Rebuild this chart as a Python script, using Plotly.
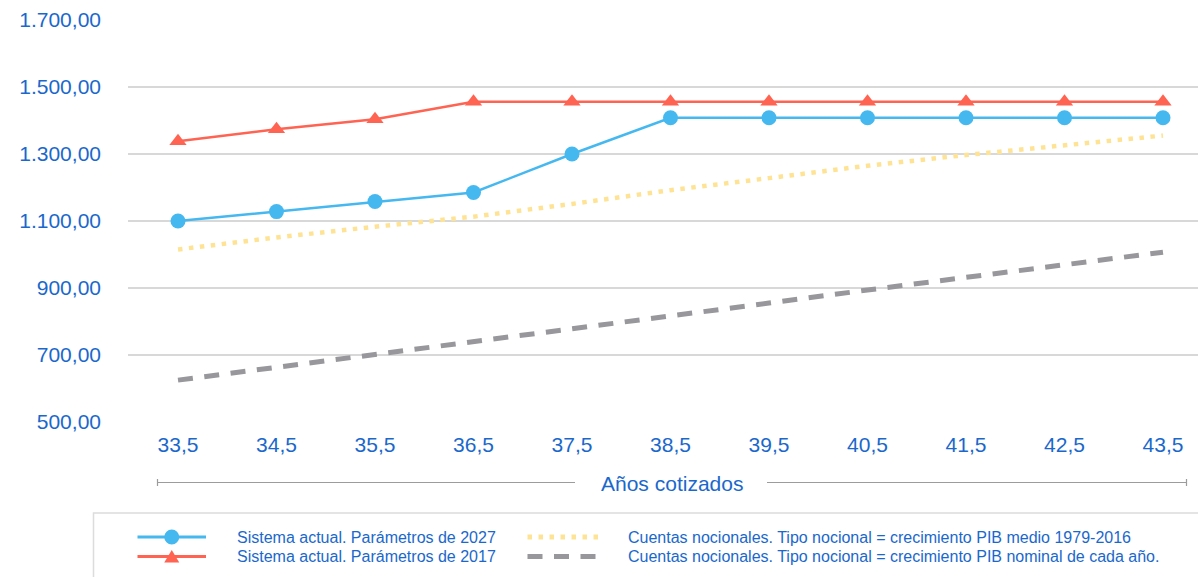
import plotly.graph_objects as go

# ---- data -------------------------------------------------------------
anos = [33.5, 34.5, 35.5, 36.5, 37.5, 38.5, 39.5, 40.5, 41.5, 42.5, 43.5]
anos_txt = ["33,5", "34,5", "35,5", "36,5", "37,5", "38,5", "39,5", "40,5", "41,5", "42,5", "43,5"]

param_2027 = [1100, 1128, 1158, 1185, 1300, 1408, 1408, 1408, 1408, 1408, 1408]
param_2017 = [1338, 1374, 1404, 1456, 1456, 1456, 1456, 1456, 1456, 1456, 1456]
pib_medio = [1015, 1051, 1083, 1113, 1151, 1192, 1228, 1265, 1297, 1325, 1355]
pib_nominal = [625, 663, 700, 739, 777, 816, 855, 894, 932, 969, 1007]

y_ticks = [500, 700, 900, 1100, 1300, 1500, 1700]
y_ticks_txt = ["500,00", "700,00", "900,00", "1.100,00", "1.300,00", "1.500,00", "1.700,00"]

nombres = [
    "Sistema actual. Parámetros de 2027",
    "Sistema actual. Parámetros de 2017",
    "Cuentas nocionales. Tipo nocional = crecimiento PIB medio 1979-2016",
    "Cuentas nocionales. Tipo nocional = crecimiento PIB nominal de cada año.",
]
titulo_x = "Años cotizados"

# ---- style ------------------------------------------------------------
AZUL = "#45b8f0"
ROJO = "#ff6352"
AMARILLO = "#ffe394"
GRIS = "#98989c"
TEXTO = "#1a68cc"
FONT = "Liberation Sans, Arial, sans-serif"
DOT = "4.5px,6.5px"
DASH = "15px,11.5px"

W, H = 1198, 577
ML, MR, MT, MB = 128, 0, 20, 155
PW, PH = W - ML - MR, H - MT - MB


def fx(px):
    return (px - ML) / PW


def fy(py):
    return (H - MB - py) / PH


fig = go.Figure()
fig.add_trace(go.Scatter(x=anos, y=pib_nominal, mode="lines", name=nombres[3],
                         line=dict(color=GRIS, width=5, dash=DASH)))
fig.add_trace(go.Scatter(x=anos, y=pib_medio, mode="lines", name=nombres[2],
                         line=dict(color=AMARILLO, width=4.5, dash=DOT)))
fig.add_trace(go.Scatter(x=anos, y=param_2017, mode="lines+markers", name=nombres[1],
                         line=dict(color=ROJO, width=2.5),
                         marker=dict(symbol="triangle-up", size=15, color=ROJO)))
fig.add_trace(go.Scatter(x=anos, y=param_2027, mode="lines+markers", name=nombres[0],
                         line=dict(color=AZUL, width=2.5),
                         marker=dict(symbol="circle", size=15, color=AZUL)))

shapes = []
annotations = []

# bracket under the category labels with the axis title in the middle
bkt_y = 482.5
for a, b in [(157.5, 575), (767, 1186.5)]:
    shapes.append(dict(type="line", xref="paper", yref="paper",
                       x0=fx(a), x1=fx(b), y0=fy(bkt_y), y1=fy(bkt_y),
                       line=dict(color="#9c9c9c", width=1.2)))
for a in (157.5, 1186.5):
    shapes.append(dict(type="line", xref="paper", yref="paper",
                       x0=fx(a), x1=fx(a), y0=fy(bkt_y - 3.5), y1=fy(bkt_y + 3.5),
                       line=dict(color="#9c9c9c", width=1.2)))
annotations.append(dict(text=titulo_x, xref="paper", yref="paper",
                        x=fx(672), y=fy(483), xanchor="center", yanchor="middle",
                        showarrow=False, font=dict(family=FONT, size=21, color=TEXTO)))

# legend frame
shapes.append(dict(type="rect", xref="paper", yref="paper",
                   x0=fx(93.5), x1=fx(1215), y0=fy(513), y1=fy(600),
                   line=dict(color="#dcdcdc", width=1.5), fillcolor="rgba(0,0,0,0)"))

# legend entries: (symbol x-start, symbol x-end, row y, text x)
rows = [537, 556.5]
col1 = (137.5, 206, 235)
col2 = (527.5, 599, 626)
entries = [
    (col1, rows[0], AZUL, "solid", 3, "circle", nombres[0]),
    (col1, rows[1], ROJO, "solid", 3, "triangle", nombres[1]),
    (col2, rows[0], AMARILLO, DOT, 5, None, nombres[2]),
    (col2, rows[1], GRIS, DASH, 5, None, nombres[3]),
]
for (x0, x1, tx), ry, color, dash, lw, sym, label in entries:
    shapes.append(dict(type="line", xref="paper", yref="paper",
                       x0=fx(x0), x1=fx(x1), y0=fy(ry), y1=fy(ry),
                       line=dict(color=color, width=lw, dash=dash)))
    cx = (x0 + x1) / 2
    if sym == "circle":
        shapes.append(dict(type="circle", xref="paper", yref="paper",
                           x0=fx(cx - 7.5), x1=fx(cx + 7.5),
                           y0=fy(ry + 7.5), y1=fy(ry - 7.5),
                           line=dict(width=0), fillcolor=color))
    elif sym == "triangle":
        path = "M {:.5f},{:.5f} L {:.5f},{:.5f} L {:.5f},{:.5f} Z".format(
            fx(cx - 7.5), fy(ry + 6), fx(cx + 7.5), fy(ry + 6), fx(cx), fy(ry - 6.5))
        shapes.append(dict(type="path", xref="paper", yref="paper", path=path,
                           line=dict(width=0), fillcolor=color))
    annotations.append(dict(text=label, xref="paper", yref="paper",
                            x=fx(tx), y=fy(ry), xanchor="left", yanchor="middle",
                            showarrow=False,
                            font=dict(family=FONT, size=16, color=TEXTO)))

px_per_unit = 98.5
fig.update_layout(
    width=W, height=H,
    margin=dict(l=ML, r=MR, t=MT, b=MB),
    paper_bgcolor="white", plot_bgcolor="white",
    showlegend=False,
    font=dict(family=FONT, size=21, color=TEXTO),
    xaxis=dict(
        range=[anos[0] - (178 - ML) / px_per_unit, anos[-1] + (W - MR - 1163) / px_per_unit],
        tickvals=anos, ticktext=anos_txt,
        showgrid=False, zeroline=False, showline=False, ticks="",
        ticklabelstandoff=8,
        tickfont=dict(family=FONT, size=21, color=TEXTO),
    ),
    yaxis=dict(
        range=[500, 1700],
        tickvals=y_ticks, ticktext=y_ticks_txt,
        showgrid=True, gridcolor="#d8d8d8", gridwidth=1.5,
        zeroline=False, showline=False, ticks="",
        ticklabelstandoff=26,
        tickfont=dict(family=FONT, size=21, color=TEXTO),
    ),
    shapes=shapes,
    annotations=annotations,
)

fig.write_html("out.html")
